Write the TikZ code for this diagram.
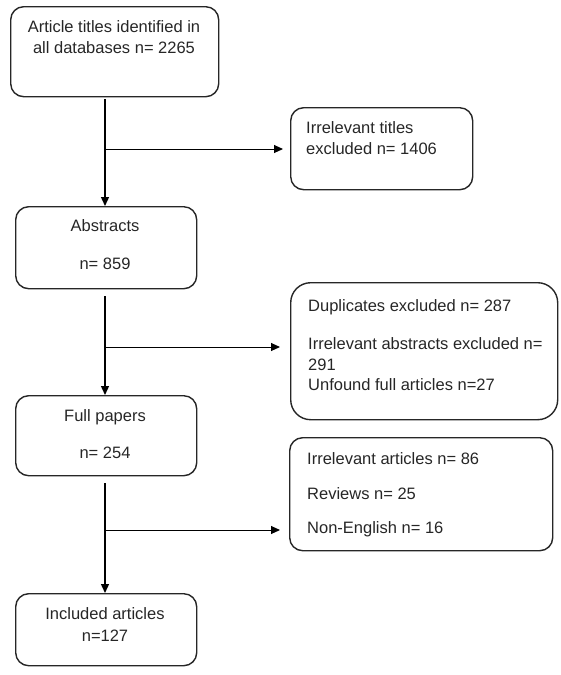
\documentclass[tikz,border=0pt]{standalone}
\usepackage{fontspec}
\setmainfont{Liberation Sans}
\usetikzlibrary{arrows.meta}
\begin{document}
\begin{tikzpicture}[x=1pt,y=-1pt,
  box/.style={draw=black!85, line width=1.4pt, rounded corners=13pt, inner sep=0pt, anchor=north west},
  txt/.style={anchor=base, inner sep=0pt, text=black!85, font=\fontsize{16.5}{21}\selectfont},
  ltxt/.style={txt, anchor=base west},
  flow/.style={draw=black, line width=1.4pt, -{Triangle[length=9pt,width=8pt]}},
  branch/.style={draw=black, line width=1pt, -{Triangle[length=9pt,width=8pt]}}]
\useasboundingbox (0,0) rectangle (560,675);
% boxes
\node[box, minimum width=208pt, minimum height=90pt] (b1) at (10,6) {};
\node[box, minimum width=182pt, minimum height=82pt] (b2) at (290,107) {};
\node[box, minimum width=181pt, minimum height=82pt] (b3) at (15,206) {};
\node[box, minimum width=267pt, minimum height=137pt, rounded corners=20pt] (b4) at (290,282) {};
\node[box, minimum width=181pt, minimum height=80pt] (b5) at (15,395) {};
\node[box, minimum width=263pt, minimum height=113pt] (b6) at (289,437) {};
\node[box, minimum width=181pt, minimum height=72pt] (b7) at (15,593) {};
% texts
\node[txt] (t1a) at (114,32) {Article titles identified in};
\node[txt] (t1b) at (114,53) {all databases n= 2265};
\node[ltxt] (t2a) at (306,133) {Irrelevant titles};
\node[ltxt] (t2b) at (306,154) {excluded n= 1406};
\node[txt] (t3a) at (105,231) {Abstracts};
\node[txt] (t3b) at (105,269) {n= 859};
\node[ltxt] (t4a) at (308,311) {Duplicates excluded n= 287};
\node[ltxt] (t4b) at (308,349) {Irrelevant abstracts excluded n=};
\node[ltxt] (t4c) at (308,370) {291};
\node[ltxt] (t4d) at (308,390) {Unfound full articles n=27};
\node[txt] (t5a) at (105,421) {Full papers};
\node[txt] (t5b) at (105,458) {n= 254};
\node[ltxt] (t6a) at (307,464) {Irrelevant articles n= 86};
\node[ltxt] (t6b) at (307,499) {Reviews n= 25};
\node[ltxt] (t6c) at (307,533) {Non-English n= 16};
\node[txt] (t7a) at (105,619) {Included articles};
\node[txt] (t7b) at (105,641) {n=127};
% junctions
\coordinate (s1) at (105,99);
\coordinate (j1) at (105,149);
\coordinate (s2) at (105,296);
\coordinate (j2) at (105,347);
\coordinate (s3) at (105,483);
\coordinate (j3) at (105,530);
% connectors
\draw[flow] (s1) -- (s1 |- b3.north);
\draw[branch, shorten >=7pt] (j1) -- (b2.west |- j1);
\draw[flow] (s2) -- (s2 |- b5.north);
\draw[branch, shorten >=10pt] (j2) -- (b4.west |- j2);
\draw[flow] (s3) -- (s3 |- b7.north);
\draw[branch, shorten >=9pt] (j3) -- (b6.west |- j3);
\end{tikzpicture}
\end{document}
